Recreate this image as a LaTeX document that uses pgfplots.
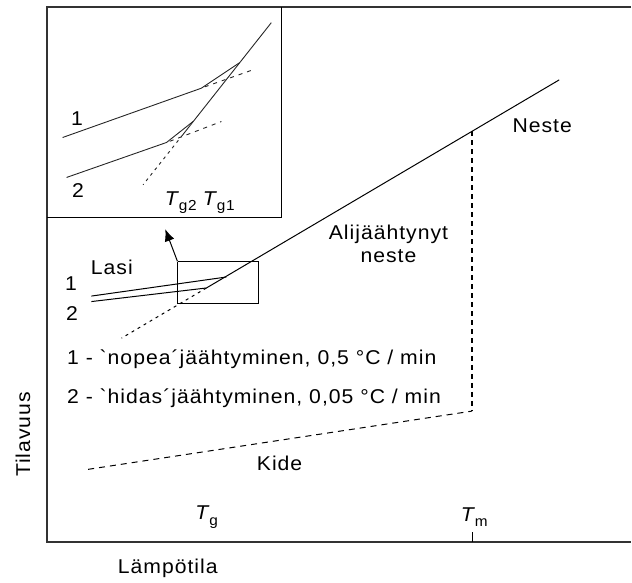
\documentclass[border=0pt]{standalone}
\usepackage{pgfplots}
\pgfplotsset{compat=1.18}
\usepackage{fontspec}
\setmainfont{Liberation Sans}[Ligatures=TeXOff,LetterSpace=5,FakeStretch=1.06]
\usetikzlibrary{arrows.meta}
\newcommand{\sub}[1]{\kern-1.2pt\raisebox{-0.28em}{\fontsize{14.5}{14}\selectfont #1}}
\begin{document}
\begin{tikzpicture}[every node/.style={font=\fontsize{20}{23}\selectfont, inner sep=0pt, text=black}]
\begin{axis}[
  scale only axis, width=632pt, height=583pt,
  xmin=0, xmax=632, ymin=0, ymax=583, y dir=reverse,
  hide axis, clip=false,
]
% invisible extent so the page covers the whole chart area
\addplot[draw=none, mark=none] coordinates {(0,0) (632,583)};
% main frame (open on the right)
\addplot[color=black!80, line width=1.8pt, mark=none] coordinates {(632,7) (47,7) (47,543) (632,543)};
% Tm tick
\addplot[black, line width=1pt, mark=none] coordinates {(472.7,533) (472.7,543)};
% inset box
\addplot[black, line width=1.3pt, mark=none] coordinates {(282,7) (282,218) (47,218)};
% zoom rectangle
\addplot[black, line width=1pt, mark=none] coordinates {(178,262) (259,262) (259,304) (178,304) (178,262)};
% arrow
\addplot[black, line width=1pt, -{Latex[length=12pt,width=10pt]}] coordinates {(177.7,261.7) (165.5,229.5)};
% liquid line (solid part)
\addplot[black, line width=1pt, mark=none] coordinates {(560,80) (206.7,288.4)};
% supercooled extension (dashed)
\addplot[black, line width=1pt, mark=none, dash pattern=on 3pt off 4pt] coordinates {(206.7,288.4) (121.7,338.6)};
% glass lines
\addplot[black, line width=1pt, mark=none] coordinates {(91.5,296.5) (226.7,277.4)};
\addplot[black, line width=1pt, mark=none] coordinates {(91.5,302) (206.7,288.4)};
% vertical dashed at Tm
\addplot[black, line width=1.3pt, mark=none, dash pattern=on 5pt off 4pt] coordinates {(472.7,131.5) (472.7,411.7)};
% crystal line (dashed)
\addplot[black, line width=1pt, mark=none, dash pattern=on 6pt off 5pt] coordinates {(88.3,470) (472.7,411.7)};
% ---- inset ----
\addplot[black!85, line width=0.9pt, mark=none] coordinates {(271.7,22.7) (183,135)};
\addplot[black!85, line width=0.9pt, mark=none, dash pattern=on 3pt off 4pt] coordinates {(183,135) (143.3,185)};
\addplot[black!85, line width=0.9pt, mark=none] coordinates {(62.7,137.7) (201.7,88.3) (240,62.7)};
\addplot[black!85, line width=0.9pt, mark=none, dash pattern=on 4pt off 5pt] coordinates {(205,87) (255,69.3)};
\addplot[black!85, line width=0.9pt, mark=none] coordinates {(66.7,177.7) (166.7,142.7) (193.3,121.7)};
\addplot[black!85, line width=0.9pt, mark=none, dash pattern=on 4pt off 5pt] coordinates {(170,141.5) (221.7,121.7)};
% ---- texts ----
\node at (axis cs:77,119) {1};
\node at (axis cs:78,191) {2};
\node at (axis cs:181,203) {\textit{T}\sub{g2}};
\node at (axis cs:219,203) {\textit{T}\sub{g1}};
\node at (axis cs:112,268) {Lasi};
\node at (axis cs:71,284) {1};
\node at (axis cs:72,314) {2};
\node[align=center] at (axis cs:389,244) {Alijäähtynyt\\neste};
\node at (axis cs:543,126) {Neste};
\node[anchor=west] at (axis cs:67,360) {1 - `nopea´jäähtyminen, 0,5 °C / min};
\node[anchor=west] at (axis cs:67,399) {2 - `hidas´jäähtyminen, 0,05 °C / min};
\node at (axis cs:280,464) {Kide};
\node at (axis cs:207,518) {\textit{T}\sub{g}};
\node at (axis cs:475,518) {\textit{T}\sub{m}};
\node at (axis cs:168,569) {Lämpötila};
\node[rotate=90] at (axis cs:23,435) {Tilavuus};
\end{axis}
\end{tikzpicture}
\end{document}
